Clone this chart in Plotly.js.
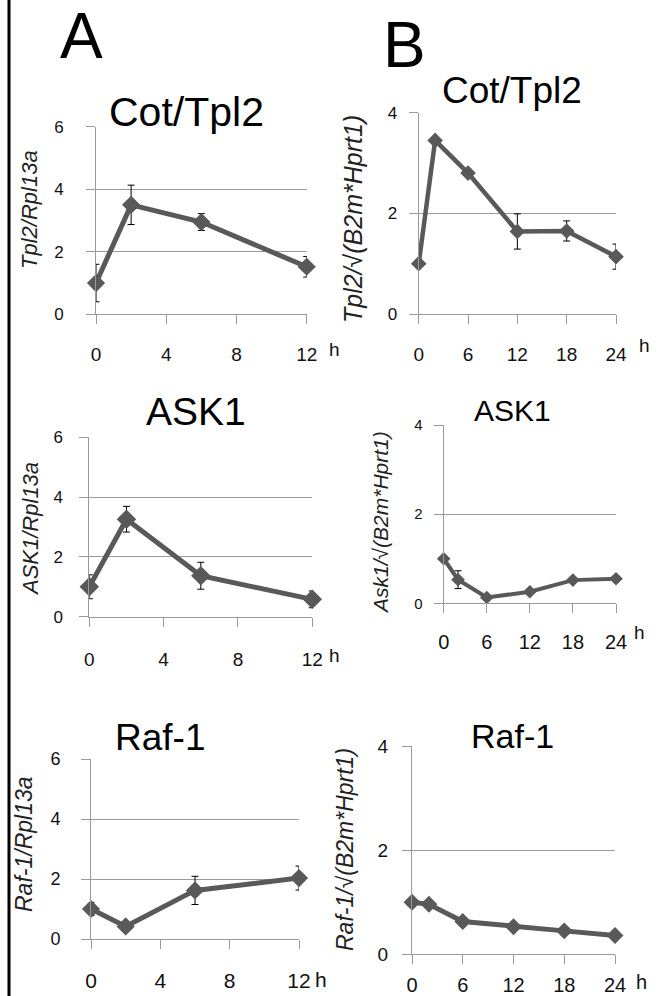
<!DOCTYPE html>
<html>
<head>
<meta charset="utf-8">
<script src="https://cdn.plot.ly/plotly-3.0.1.min.js"></script>
<style>html,body{margin:0;padding:0;background:#fff;}#chart{width:662px;height:996px;}</style>
</head>
<body>
<div id="chart"></div>
<script>
// ---- data ----
const hoursA = [0, 2, 6, 12];
const hoursB = [0, 2, 6, 12, 18, 24];
const tickA = [0, 4, 8, 12];
const tickB = [0, 6, 12, 18, 24];

const tplA = [1.0, 3.5, 2.95, 1.52];
const tplAErr = [0.6, 0.63, 0.27, 0.33];
const askA = [1.0, 3.26, 1.37, 0.58];
const askAErr = [0.4, 0.43, 0.45, 0.28];
const rafA = [1.0, 0.42, 1.62, 2.03];
const rafAErr = [0.22, 0, 0.47, 0.4];

const tplB = [1.0, 3.45, 2.8, 1.64, 1.65, 1.14];
const tplBErr = [0, 0, 0.05, 0.35, 0.2, 0.25];
const askB = [1.0, 0.53, 0.13, 0.26, 0.52, 0.55];
const askBErr = [0, 0.2, 0, 0, 0, 0];
const rafB = [1.0, 0.96, 0.63, 0.53, 0.45, 0.36];
const rafBErr = [0.05, 0.05, 0, 0, 0, 0];

const titles = ["Cot/Tpl2", "ASK1", "Raf-1"];
const yTitlesA = ["<i>Tpl2/Rpl13a</i>", "<i>ASK1/Rpl13a</i>", "<i>Raf-1/Rpl13a</i>"];
const yTitlesB = ["<i>Tpl2/√(B2m*Hprt1)</i>", "<i>Ask1/√(B2m*Hprt1)</i>", "<i>Raf-1/√(B2m*Hprt1)</i>"];

// ---- layout helpers ----
const W = 662, H = 996;
const px = v => v / W;
const py = v => 1 - v / H;
const FONT = "Liberation Sans, Arial, sans-serif";
const LINE = "#595959";
const GRID = "#9a9a9a";

// panel boxes in pixels: [left, right, top, bottom]
const panels = [
  {x: hoursA, y: tplA, e: tplAErr, box: [96, 306.7, 126.7, 314.3], yr: [0, 6], yt: [0, 2, 4, 6], xr: [0, 12], xt: tickA, ms: 14, lw: 5, yfs: 17, xfs: 19, ysd: 19, xsd: 14},
  {x: hoursA, y: askA, e: askAErr, box: [89.3, 312.3, 437.3, 616.7], yr: [0, 6], yt: [0, 2, 4, 6], xr: [0, 12], xt: tickA, ms: 15, lw: 5, yfs: 17, xfs: 19, ysd: 13, xsd: 16},
  {x: hoursA, y: rafA, e: rafAErr, box: [91, 299, 759, 939], yr: [0, 6], yt: [0, 2, 4, 6], xr: [0, 12], xt: tickA, ms: 14, lw: 5, yfs: 18, xfs: 21, ysd: 17, xsd: 14},
  {x: hoursB, y: tplB, e: tplBErr, box: [418.7, 616, 112.7, 314], yr: [0, 4], yt: [0, 2, 4], xr: [0, 24], xt: tickB, ms: 12, lw: 4.5, yfs: 17, xfs: 19, ysd: 8, xsd: 14},
  {x: hoursB, y: askB, e: askBErr, box: [443.7, 616, 425, 603.3], yr: [0, 4], yt: [0, 2, 4], xr: [0, 24], xt: tickB, ms: 10.5, lw: 4, yfs: 15, xfs: 20, ysd: 8, xsd: 12},
  {x: hoursB, y: rafB, e: rafBErr, box: [412, 615, 746, 954.3], yr: [0, 4], yt: [0, 2, 4], xr: [0, 24], xt: tickB, ms: 13, lw: 5, yfs: 19, xfs: 20, ysd: 10, xsd: 4}
];

const data = [];
const layout = {
  width: W, height: H,
  margin: {l: 0, r: 0, t: 0, b: 0},
  paper_bgcolor: "#fff", plot_bgcolor: "rgba(0,0,0,0)",
  showlegend: false,
  font: {family: FONT, color: "#111"},
  annotations: [],
  shapes: [
    {type: "line", xref: "paper", yref: "paper", x0: px(9), x1: px(9), y0: 0, y1: 1, line: {color: "#000", width: 3}}
  ]
};

panels.forEach((p, i) => {
  const n = i + 1;
  const xa = n === 1 ? "x" : "x" + n;
  const ya = n === 1 ? "y" : "y" + n;
  data.push({
    type: "scatter", mode: "lines+markers",
    x: p.x, y: p.y, xaxis: xa, yaxis: ya,
    cliponaxis: false,
    line: {color: LINE, width: p.lw},
    marker: {symbol: "diamond", size: p.ms, color: LINE},
    error_y: {type: "data", array: p.e, visible: true, color: "#000", thickness: 1, width: 3.5}
  });
  const [l, r, t, b] = p.box;
  layout["xaxis" + (n === 1 ? "" : n)] = {
    domain: [px(l), px(r)], anchor: ya, range: p.xr,
    tickvals: p.xt, ticktext: p.xt.map(String),
    showgrid: false, zeroline: false,
    showline: true, linecolor: GRID, linewidth: 1,
    ticks: "outside", ticklen: 9, tickcolor: GRID, tickwidth: 1,
    tickfont: {family: FONT, size: p.xfs, color: "#111"},
    ticklabelstandoff: p.xsd, fixedrange: true
  };
  layout["yaxis" + (n === 1 ? "" : n)] = {
    domain: [py(b), py(t)], anchor: xa, range: p.yr,
    tickvals: p.yt,
    showgrid: true, gridcolor: GRID, gridwidth: 1, zeroline: false,
    showline: true, linecolor: GRID, linewidth: 1,
    ticks: "outside", ticklen: 9, tickcolor: GRID, tickwidth: 1,
    tickfont: {family: FONT, size: p.yfs, color: "#111"},
    ticklabelstandoff: p.ysd, fixedrange: true
  };
});

function ann(text, x, y, size, extra) {
  layout.annotations.push(Object.assign({
    text: text, xref: "paper", yref: "paper", x: px(x), y: py(y),
    xanchor: "center", yanchor: "middle", showarrow: false,
    font: {family: FONT, size: size, color: "#000"}
  }, extra || {}));
}
function ytitle(text, x, y, size) {
  ann(text, x, y, size, {textangle: -90, font: {family: FONT, size: size, color: "#222"}});
}
function unit(x, y, size) {
  ann("h", x, y, size, {font: {family: FONT, size: size, color: "#111"}});
}

// panel letters
ann("A", 81.5, 36, 64);
ann("B", 404, 45, 64);
// chart titles
ann(titles[0], 186, 112, 41);
ann(titles[1], 195.5, 411, 39);
ann(titles[2], 160, 737, 37);
ann(titles[0], 512, 90, 37);
ann(titles[1], 512, 410, 30);
ann(titles[2], 512, 736, 34);
// y-axis titles
ytitle(yTitlesA[0], 30, 210, 22);
ytitle(yTitlesA[1], 30, 529, 22);
ytitle(yTitlesA[2], 24, 844, 23);
ytitle(yTitlesB[0], 353, 219, 25);
ytitle(yTitlesB[1], 380, 523, 21);
ytitle(yTitlesB[2], 345, 850, 23);
// hour unit labels
unit(334, 349, 19);
unit(335, 655, 19);
unit(321, 979, 21);
unit(644, 345, 19);
unit(639, 632, 19);
unit(641, 982, 20);

Plotly.newPlot("chart", data, layout, {staticPlot: true, displayModeBar: false});
</script>
</body>
</html>
